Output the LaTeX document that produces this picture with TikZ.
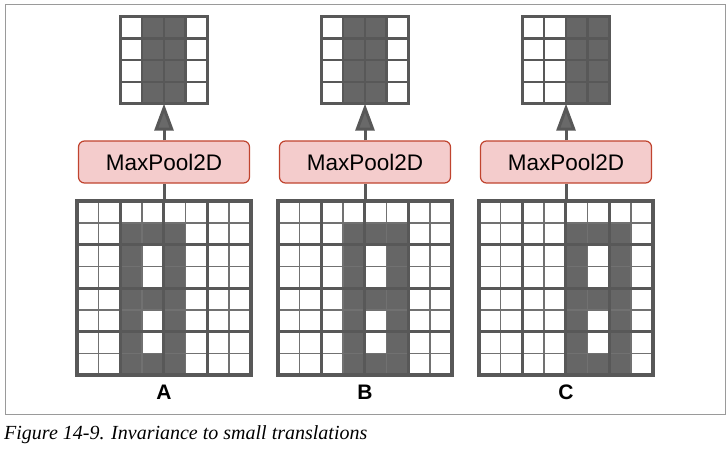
\documentclass[tikz,border=0pt]{standalone}
\usepackage{fontspec}
\setmainfont{Liberation Serif}
\setsansfont{Liberation Sans}
\usepackage{xcolor}
\usepackage{tikz}
\usetikzlibrary{positioning, arrows.meta}
\definecolor{cellgray}{HTML}{666666}
\definecolor{linegray}{HTML}{585858}
\definecolor{poolfill}{HTML}{F4CCCC}
\definecolor{pooldraw}{HTML}{C0442F}
\definecolor{framegray}{HTML}{9A9A9A}

\begin{document}
\begin{tikzpicture}[x=1pt, y=1pt,
  bignode/.style={inner sep=0, minimum size=174pt},
  smallnode/.style={inner sep=0, minimum size=87pt},
  poolnode/.style={rectangle, rounded corners=6pt, draw=pooldraw, fill=poolfill, line width=1.2pt, minimum width=171pt, minimum height=42pt, font=\sffamily\fontsize{22.5}{27}\selectfont},
  labnode/.style={font=\sffamily\bfseries\fontsize{21}{25}\selectfont},
  thinline/.style={draw=linegray!85, line width=1.4pt},
  thickline/.style={draw=linegray, line width=3pt},
  link/.style={draw=linegray, line width=3pt},
  uparrow/.style={-{Triangle[length=27pt, width=19pt, fill=linegray!90!white]}}]
\useasboundingbox (0,0) rectangle (727,448);
\draw[framegray, line width=1pt] (5,34) rectangle (725,443);

\node[bignode] at (164,160) (1h0) {};
\node[poolnode] at (164,286) (1h1) {MaxPool2D};
\node[smallnode] at (164,388) (1h2) {};
\node[labnode] at (164,56) (1l) {A};
\begin{scope}[shift={(1h0.south west)}, x=21.75pt, y=21.75pt]
\fill[white] (0,0) rectangle (8,8);
\fill[cellgray] (2,0) rectangle (5,7);
\fill[white] (3,4) rectangle (4,6);
\fill[white] (3,1) rectangle (4,3);
\draw[thinline] (0,0) grid[step=1] (8,8);
\draw[thickline] (0,0) grid[step=2] (8,8);
\draw[thickline, line width=3.5pt] (0,0) rectangle (8,8);
\end{scope}
\begin{scope}[shift={(1h2.south west)}, x=21.75pt, y=21.75pt]
\fill[white] (0,0) rectangle (4,4);
\fill[cellgray] (1,0) rectangle (3,4);
\draw[thickline, line width=2.5pt] (0,0) grid[step=1] (4,4);
\draw[thickline] (0,0) rectangle (4,4);
\end{scope}
\draw[link] (1h0.north) -- (1h1.south);
\draw[link, uparrow] (1h1.north) -- (1h2.south);

\node[bignode] at (365,160) (2h0) {};
\node[poolnode] at (365,286) (2h1) {MaxPool2D};
\node[smallnode] at (365,388) (2h2) {};
\node[labnode] at (365,56) (2l) {B};
\begin{scope}[shift={(2h0.south west)}, x=21.75pt, y=21.75pt]
\fill[white] (0,0) rectangle (8,8);
\fill[cellgray] (3,0) rectangle (6,7);
\fill[white] (4,4) rectangle (5,6);
\fill[white] (4,1) rectangle (5,3);
\draw[thinline] (0,0) grid[step=1] (8,8);
\draw[thickline] (0,0) grid[step=2] (8,8);
\draw[thickline, line width=3.5pt] (0,0) rectangle (8,8);
\end{scope}
\begin{scope}[shift={(2h2.south west)}, x=21.75pt, y=21.75pt]
\fill[white] (0,0) rectangle (4,4);
\fill[cellgray] (1,0) rectangle (3,4);
\draw[thickline, line width=2.5pt] (0,0) grid[step=1] (4,4);
\draw[thickline] (0,0) rectangle (4,4);
\end{scope}
\draw[link] (2h0.north) -- (2h1.south);
\draw[link, uparrow] (2h1.north) -- (2h2.south);

\node[bignode] at (566,160) (3h0) {};
\node[poolnode] at (566,286) (3h1) {MaxPool2D};
\node[smallnode] at (566,388) (3h2) {};
\node[labnode] at (566,56) (3l) {C};
\begin{scope}[shift={(3h0.south west)}, x=21.75pt, y=21.75pt]
\fill[white] (0,0) rectangle (8,8);
\fill[cellgray] (4,0) rectangle (7,7);
\fill[white] (5,4) rectangle (6,6);
\fill[white] (5,1) rectangle (6,3);
\draw[thinline] (0,0) grid[step=1] (8,8);
\draw[thickline] (0,0) grid[step=2] (8,8);
\draw[thickline, line width=3.5pt] (0,0) rectangle (8,8);
\end{scope}
\begin{scope}[shift={(3h2.south west)}, x=21.75pt, y=21.75pt]
\fill[white] (0,0) rectangle (4,4);
\fill[cellgray] (2,0) rectangle (4,4);
\draw[thickline, line width=2.5pt] (0,0) grid[step=1] (4,4);
\draw[thickline] (0,0) rectangle (4,4);
\end{scope}
\draw[link] (3h0.north) -- (3h1.south);
\draw[link, uparrow] (3h1.north) -- (3h2.south);

\node[anchor=base west, inner sep=0, font=\itshape\fontsize{20}{24}\selectfont] at (4,9) (cap) {Figure 14-9. Invariance to small translations};
\end{tikzpicture}
\end{document}
